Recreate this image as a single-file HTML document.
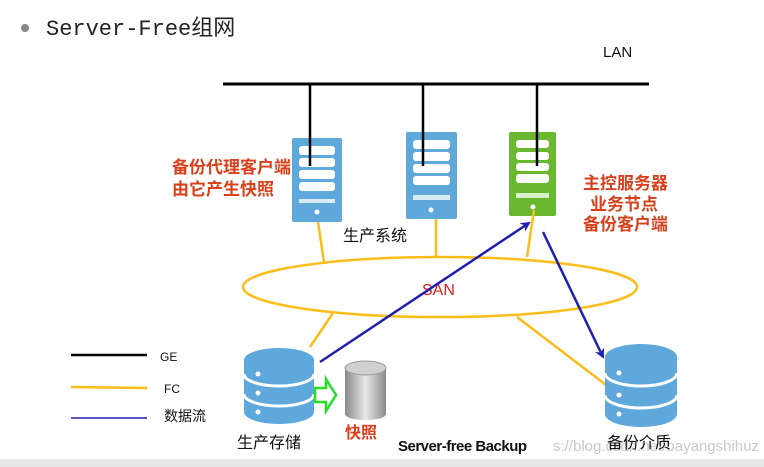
<!DOCTYPE html>
<html><head><meta charset="utf-8"><style>
body{margin:0;background:#fff;width:764px;height:467px;overflow:hidden}
svg{display:block}
text{font-family:"Liberation Sans","Noto Sans CJK SC",sans-serif}
</style></head><body>
<svg width="764" height="467" viewBox="0 0 764 467" xmlns="http://www.w3.org/2000/svg">
<defs>
<marker id="ah" markerWidth="10" markerHeight="10" refX="8" refY="5" orient="auto" markerUnits="userSpaceOnUse"><path d="M0,0 L10,5 L0,10 L3,5 z" fill="#2020b0"/></marker>
<linearGradient id="cg" x1="0" x2="1"><stop offset="0" stop-color="#8a8a8a"/><stop offset="0.5" stop-color="#e8e8e8"/><stop offset="1" stop-color="#8a8a8a"/></linearGradient>
</defs>
<rect x="0" y="459" width="764" height="8" fill="#e6e6e6"/>
<circle cx="25" cy="28" r="4" fill="#888"/>
<text x="46" y="35" font-size="22" fill="#222" style="font-family:'Liberation Mono','Noto Sans CJK SC',monospace">Server-Free组网</text>
<text x="603" y="57" font-size="15" fill="#111">LAN</text>
<line x1="223" y1="84" x2="649" y2="84" stroke="#000" stroke-width="3"/>
<g>
<rect x="292" y="138" width="50" height="84" rx="2" fill="#5fa8dc"/>
<rect x="299" y="146" width="36" height="9" rx="3" fill="#fff"/><rect x="299" y="158" width="36" height="9" rx="3" fill="#fff"/><rect x="299" y="170" width="36" height="9" rx="3" fill="#fff"/><rect x="299" y="182" width="36" height="9" rx="3" fill="#fff"/>
<rect x="299" y="199" width="36" height="4" fill="#d8ecf8"/><circle cx="317" cy="212" r="2.5" fill="#fff"/>
</g>
<g>
<rect x="406" y="132" width="51" height="87" rx="2" fill="#5fa8dc"/>
<rect x="413" y="140" width="37" height="9" rx="3" fill="#fff"/><rect x="413" y="152" width="37" height="9" rx="3" fill="#fff"/><rect x="413" y="164" width="37" height="9" rx="3" fill="#fff"/><rect x="413" y="176" width="37" height="9" rx="3" fill="#fff"/>
<rect x="413" y="195" width="37" height="5" fill="#d8ecf8"/><circle cx="431" cy="210" r="2.5" fill="#fff"/>
</g>
<g>
<rect x="509" y="132" width="47" height="84" rx="2" fill="#6ab830"/>
<rect x="516" y="140" width="33" height="8" rx="3" fill="#fff"/><rect x="516" y="152" width="33" height="8" rx="3" fill="#fff"/><rect x="516" y="163" width="33" height="8" rx="3" fill="#fff"/><rect x="516" y="174" width="33" height="9" rx="3" fill="#fff"/>
<rect x="516" y="193" width="33" height="5" fill="#d8f0c8"/><circle cx="533" cy="207" r="2.5" fill="#fff"/>
</g>
<line x1="310" y1="84" x2="310" y2="166" stroke="#000" stroke-width="2.5"/>
<line x1="423" y1="84" x2="423" y2="166" stroke="#000" stroke-width="2.5"/>
<line x1="537" y1="84" x2="537" y2="166" stroke="#000" stroke-width="2.5"/>
<g font-size="17" font-weight="bold" fill="#d8401c">
<text x="172" y="173">备份代理客户端</text><text x="172" y="195">由它产生快照</text>
<text x="583" y="189">主控服务器</text><text x="590" y="210">业务节点</text><text x="583" y="230">备份客户端</text>
</g>
<text x="343" y="241" font-size="16" fill="#111">生产系统</text>
<g stroke="#fbbd1a" stroke-width="2.5" fill="none">
<line x1="318" y1="222" x2="324" y2="262"/>
<line x1="436" y1="219" x2="436" y2="257"/>
<line x1="534" y1="210" x2="527" y2="257"/>
<line x1="333" y1="313" x2="310" y2="347"/>
<line x1="517" y1="317" x2="610" y2="388"/>
<ellipse cx="440" cy="287" rx="197" ry="30"/>
</g>
<text x="422" y="295" font-size="16" fill="#e02020">SAN</text>
<g>
<path d="M244,360 L244,412 A35,12 0 0 0 314,412 L314,360 Z" fill="#5fa8dc"/>
<ellipse cx="279" cy="360" rx="35" ry="12" fill="#5fa8dc"/>
<path d="M244,374 A35,12 0 0 0 314,374" stroke="#fff" stroke-width="3" fill="none"/>
<path d="M244,394 A35,12 0 0 0 314,394" stroke="#fff" stroke-width="3" fill="none"/>
<circle cx="258" cy="374" r="2.5" fill="#fff"/><circle cx="258" cy="393" r="2.5" fill="#fff"/><circle cx="258" cy="412" r="2.5" fill="#fff"/>
</g>
<g>
<path d="M605,357 L605,414 A36,13 0 0 0 677,414 L677,357 Z" fill="#5fa8dc"/>
<ellipse cx="641" cy="357" rx="36" ry="13" fill="#5fa8dc"/>
<path d="M605,373 A36,13 0 0 0 677,373" stroke="#fff" stroke-width="3" fill="none"/>
<path d="M605,395 A36,13 0 0 0 677,395" stroke="#fff" stroke-width="3" fill="none"/>
<circle cx="619" cy="373" r="2.5" fill="#fff"/><circle cx="619" cy="395" r="2.5" fill="#fff"/><circle cx="619" cy="414" r="2.5" fill="#fff"/>
</g>
<path d="M345,368 L345,414 A20,6 0 0 0 386,414 L386,368 Z" fill="url(#cg)"/>
<ellipse cx="365.5" cy="368" rx="20.5" ry="7" fill="#d0d0d0" stroke="#999"/>
<path d="M315,388 L326,388 L326,379 L336,395 L326,411 L326,402 L315,402 Z" fill="#fff" stroke="#22e022" stroke-width="2.5"/>
<line x1="320" y1="362" x2="529" y2="223" stroke="#2020b0" stroke-width="2.5" marker-end="url(#ah)"/>
<line x1="543" y1="232" x2="603" y2="357" stroke="#2020b0" stroke-width="2.5" marker-end="url(#ah)"/>
<line x1="71" y1="355" x2="147" y2="355" stroke="#000" stroke-width="2.5"/>
<line x1="71" y1="387" x2="147" y2="388" stroke="#fbbd1a" stroke-width="2.5"/>
<line x1="71" y1="418" x2="147" y2="418" stroke="#2020b0" stroke-width="1.5"/>
<text x="160" y="361" font-size="12" fill="#111">GE</text>
<text x="164" y="393" font-size="12" fill="#111">FC</text>
<text x="164" y="421" font-size="14" fill="#111">数据流</text>
<text x="237" y="448" font-size="16" fill="#111">生产存储</text>
<text x="345" y="438" font-size="16" font-weight="bold" fill="#d8401c">快照</text>
<text x="398" y="451" font-size="15" font-weight="bold" fill="#111" letter-spacing="-0.5">Server-free Backup</text>
<text x="553" y="451" font-size="15" fill="#c8c8c8">s://blog.csdn.net/bayangshihuz</text>
<text x="607" y="448" font-size="16" fill="#111">备份介质</text>
</svg>
</body></html>
